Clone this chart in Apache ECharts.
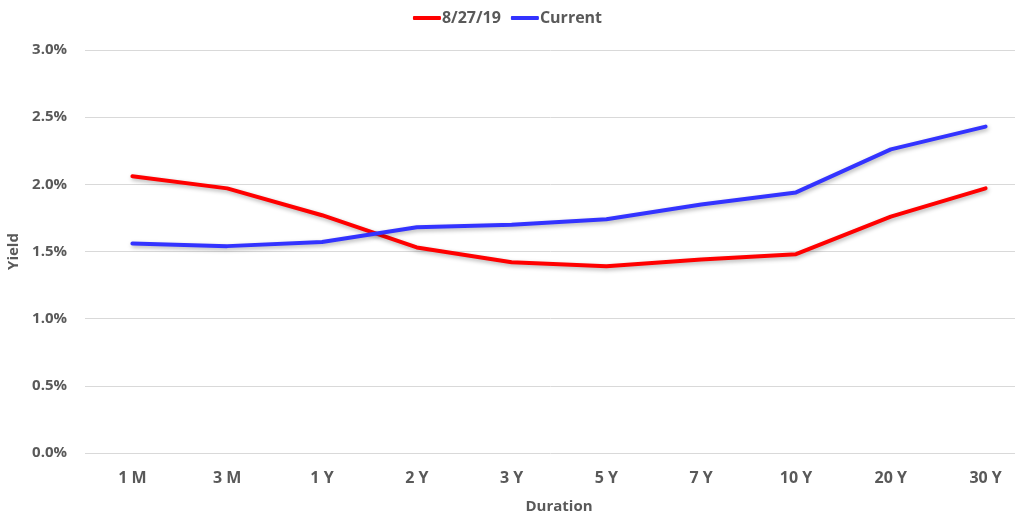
<!DOCTYPE html>
<html><head><meta charset="utf-8">
<script src="https://cdn.jsdelivr.net/npm/echarts@6/dist/echarts.min.js"></script>
<style>html,body{margin:0;padding:0;background:#fff}#c{width:1015px;height:518px}</style>
</head><body><div id="c"></div>
<script>
const categories = ['1 M','3 M','1 Y','2 Y','3 Y','5 Y','7 Y','10 Y','20 Y','30 Y'];
const series0827 = [2.06,1.97,1.77,1.53,1.42,1.39,1.44,1.48,1.76,1.97];
const seriesCurrent = [1.56,1.54,1.57,1.68,1.70,1.74,1.85,1.94,2.26,2.43];
const yTicks = [0,0.5,1.0,1.5,2.0,2.5,3.0];

const font = 'Open Sans';
const chart = echarts.init(document.getElementById('c'));
const lineStyle = (c) => ({color:c,width:4,shadowColor:'rgba(0,0,0,0.3)',shadowBlur:4,shadowOffsetX:1,shadowOffsetY:2,cap:'round'});
chart.setOption({
  animation:false,
  textStyle:{fontFamily:font},
  legend:{top:5,left:'center',itemWidth:28,itemHeight:4,itemGap:10,icon:'roundRect',
    textStyle:{fontFamily:font,fontWeight:'bold',fontSize:16,color:'#595959',padding:[0,0,0,-4]},
    data:['8/27/19','Current']},
  grid:{left:85,right:-18,top:50,bottom:65,containLabel:false,outerBoundsMode:'none'},
  xAxis:{type:'category',data:categories,boundaryGap:true,
    name:'Duration',nameLocation:'middle',nameGap:46,
    nameTextStyle:{fontFamily:font,fontWeight:'bold',fontSize:15,color:'#595959'},
    axisLine:{show:false},axisTick:{show:false},
    axisLabel:{margin:17,fontFamily:font,fontWeight:'bold',fontSize:16,color:'#595959'}},
  yAxis:{type:'value',min:0,max:3,interval:0.5,
    name:'Yield',nameLocation:'middle',nameGap:61,nameRotate:90,
    nameTextStyle:{fontFamily:font,fontWeight:'bold',fontSize:15,color:'#595959'},
    axisLine:{show:false},axisTick:{show:false},
    splitLine:{lineStyle:{color:'#d9d9d9',width:1}},
    axisLabel:{margin:18,fontFamily:font,fontWeight:'bold',fontSize:15,color:'#595959',
      formatter:(v)=>yTicks.includes(v)?v.toFixed(1)+'%':''}},
  series:[
    {name:'8/27/19',type:'line',data:series0827,symbol:'none',itemStyle:{color:'#ff0000'},lineStyle:lineStyle('#ff0000')},
    {name:'Current',type:'line',data:seriesCurrent,symbol:'none',itemStyle:{color:'#3333ff'},lineStyle:lineStyle('#3333ff')}
  ]
});
</script></body></html>
